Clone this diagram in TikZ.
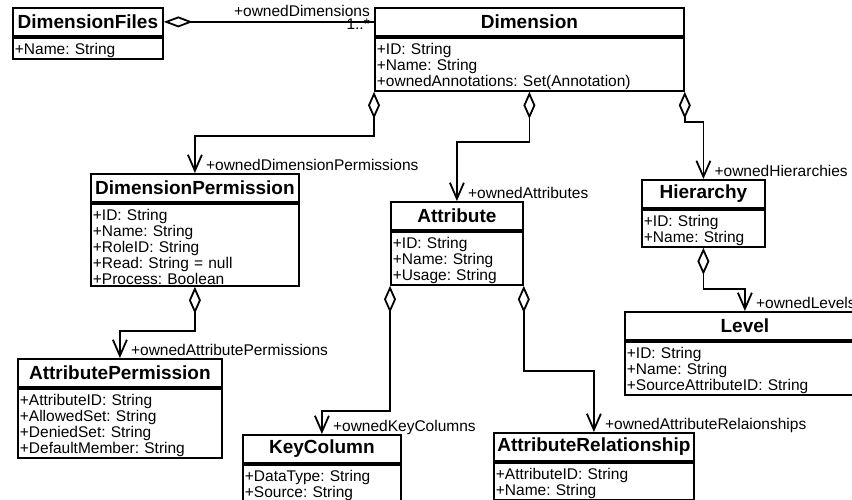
\documentclass[tikz,border=0pt]{standalone}
\usepackage{fontspec}
\setmainfont{Liberation Sans}
\frenchspacing
\usetikzlibrary{arrows.meta,positioning}

\begin{document}
\begin{tikzpicture}[x=1pt,y=-1pt,
    classname/.style={rectangle, draw, line width=1.8pt, inner sep=0pt, minimum height=28pt, anchor=north west, font=\bfseries\fontsize{19}{22}\selectfont},
    classattrs/.style={rectangle, draw, line width=1.8pt, inner xsep=2pt, inner ysep=1pt, align=left, font=\fontsize{15.5}{16}\selectfont, execute at begin node={\rule{0pt}{16pt}}},
    role/.style={inner sep=0pt, anchor=base west, font=\fontsize{15.5}{16}\selectfont},
    owns/.style={line width=1.8pt, {Diamond[open,length=27pt,width=12pt]}-{Straight Barb[length=16pt,width=14pt]}}]
    \useasboundingbox (0,0) rectangle (852,500);

    % classes
    \node[classname, minimum width=150pt] (dimfiles) at (12,7) {DimensionFiles};
    \node[classattrs, text width=146pt, below=0pt of dimfiles] (dimfilesattrs) {+Name: String};

    \node[classname, minimum width=309pt] (dimension) at (374,7) {Dimension};
    \node[classattrs, text width=305pt, below=0pt of dimension] (dimensionattrs) {+ID: String\\+Name: String\\+ownedAnnotations: Set(Annotation)};

    \node[classname, minimum width=208pt] (dimperm) at (90,173) {DimensionPermission};
    \node[classattrs, text width=204pt, below=0pt of dimperm] (dimpermattrs) {+ID: String\\+Name: String\\+RoleID: String\\+Read: String = null\\+Process: Boolean};

    \node[classname, minimum width=132pt] (attribute) at (390,201) {Attribute};
    \node[classattrs, text width=128pt, below=0pt of attribute] (attributeattrs) {+ID: String\\+Name: String\\+Usage: String};

    \node[classname, minimum width=123pt] (hierarchy) at (641,179) {Hierarchy};
    \node[classattrs, text width=119pt, below=0pt of hierarchy] (hierarchyattrs) {+ID: String\\+Name: String};

    \node[classname, minimum width=240pt] (level) at (624,311) {Level};
    \node[classattrs, text width=236pt, below=0pt of level] (levelattrs) {+ID: String\\+Name: String\\+SourceAttributeID: String};

    \node[classname, minimum width=204pt] (attrperm) at (17,358) {AttributePermission};
    \node[classattrs, text width=200pt, below=0pt of attrperm] (attrpermattrs) {+AttributeID: String\\+AllowedSet: String\\+DeniedSet: String\\+DefaultMember: String};

    \node[classname, minimum width=158pt] (keycol) at (242,434) {KeyColumn};
    \node[classattrs, text width=154pt, below=0pt of keycol] (keycolattrs) {+DataType: String\\+Source: String};

    \node[classname, minimum width=200pt] (attrrel) at (493,432) {AttributeRelationship};
    \node[classattrs, text width=196pt, below=0pt of attrrel] (attrrelattrs) {+AttributeID: String\\+Name: String};

    % associations
    \draw[line width=1.8pt, {Diamond[open,length=29pt,width=11pt]}-] (dimfiles.east) -- (dimension.west);
    \node[role, anchor=base east] (rdims) at ([xshift=-4pt,yshift=5.5pt]dimension.west) {+ownedDimensions};
    \node[role, anchor=base east] (mdims) at ([xshift=-4pt,yshift=-7.5pt]dimension.west) {1..*};

    \draw[owns] (dimensionattrs.south west) -- ++(0,44) -| (dimperm.north);
    \draw[owns] (dimensionattrs.south) -- ++(0,50) -| (attribute.north);
    \draw[owns] (dimensionattrs.south east) -- ++(0,30) -| (hierarchy.north);
    \draw[owns] (hierarchyattrs.south) -- ++(0,41) -| (level.north);
    \draw[owns] (dimpermattrs.south) -- ++(0,44) -| (attrperm.north);
    \draw[owns] (attributeattrs.south west) -- ++(0,125) -| (keycol.north);
    \draw[owns] (attributeattrs.south east) -- ++(0,85) -| (attrrel.north);

    \node[role] (rdimperm) at ([xshift=11pt,yshift=2.5pt]dimperm.north) {+ownedDimensionPermissions};
    \node[role] (rattr) at ([xshift=11pt,yshift=2.5pt]attribute.north) {+ownedAttributes};
    \node[role] (rhier) at ([xshift=11pt,yshift=2.5pt]hierarchy.north) {+ownedHierarchies};
    \node[role] (rlevel) at ([xshift=11pt,yshift=2.5pt]level.north) {+ownedLevels};
    \node[role] (rattrperm) at ([xshift=11pt,yshift=2.5pt]attrperm.north) {+ownedAttributePermissions};
    \node[role] (rkeycol) at ([xshift=11pt,yshift=2.5pt]keycol.north) {+ownedKeyColumns};
    \node[role] (rattrrel) at ([xshift=11pt,yshift=2.5pt]attrrel.north) {+ownedAttributeRelaionships};
\end{tikzpicture}
\end{document}
